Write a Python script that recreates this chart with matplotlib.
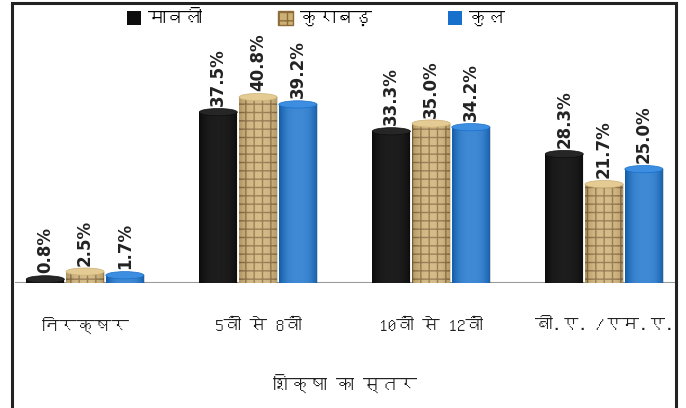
import matplotlib
matplotlib.use("Agg")
import matplotlib.pyplot as plt
from matplotlib import font_manager, ft2font
from matplotlib.patches import Ellipse, Rectangle, Patch
import numpy as np

categories = ["निरक्षर", "5वीं से 8वीं", "10वीं से 12वीं", "बी.ए. /एम.ए."]
series_names = ["मावली", "कुराबड़", "कुल"]
mavli = [0.8, 37.5, 33.3, 28.3]
kurabad = [2.5, 40.8, 35.0, 21.7]
kul = [1.7, 39.2, 34.2, 25.0]
xlabel = "शिक्षा का स्तर"

# find a font with Devanagari glyphs
deva = None
cands = []
for f in font_manager.fontManager.ttflist:
    try:
        cm = ft2font.FT2Font(f.fname).get_charmap()
        if 0x092E in cm and 0x0915 in cm:
            cands.append(f)
    except Exception:
        pass
if cands:
    deva = cands[0].name
families = ([deva] if deva else []) + ["DejaVu Sans"]
plt.rcParams['font.family'] = families

fig = plt.figure(figsize=(6.86, 4.08), dpi=100)
W, H = 686, 408
ax = fig.add_axes([15 / W, (H - 283) / H, 660 / W, (283 - 78) / H])
ax.axis("off")

colors = ["#0d0d0d", "#cdb074", "#1670cc"]
tops = ["#262626", "#e3cb93", "#3d8ee0"]
hatches = [None, "++", None]
alphas = [0.07, 0.15, 0.18]
offs = [-0.23, 0.0, 0.23]
bw = 0.22
x = np.arange(len(categories))
cap_h = 1.6

shade = np.linspace(-1, 1, 64)
grad = (1 - shade ** 2)[None, :]

for vals, c, tc, h, a, o, name in zip([mavli, kurabad, kul], colors, tops, hatches, alphas, offs, series_names):
    bars = ax.bar(x + o, vals, width=bw, color=c, edgecolor=("#8c6c3c" if h else c),
                  hatch=h, linewidth=0, label=name, zorder=3)
    for b in bars:
        im = ax.imshow(grad, cmap="Greys_r", alpha=a, aspect="auto",
                       extent=(b.get_x(), b.get_x() + b.get_width(), 0, b.get_height()),
                       zorder=3.5, vmin=0, vmax=1)
        im.set_clip_path(b)
    for xi, v in zip(x + o, vals):
        ax.add_patch(Ellipse((xi, v), bw, cap_h, facecolor=tc, edgecolor=c, lw=0.5, zorder=4))
        ax.add_patch(Ellipse((xi, 0), bw, cap_h, facecolor=c, edgecolor=c, lw=0, zorder=2.5))
        ax.text(xi, v + 1.3, f"{v:.1f}%", rotation=90, ha="center", va="bottom",
                fontsize=12, fontweight="bold", family="DejaVu Sans", color="#222222", zorder=5)
ax.set_xlim(-0.405, 3.41)
ax.set_ylim(0, 45)

ax.axhline(0, color="#999999", lw=1.5, zorder=1)

for xi, lab in zip(x, categories):
    fig.text((85 + 173 * xi) / W, (H - 325) / H, lab, ha="center", va="center",
             fontsize=12.5, fontweight="bold", color="#222222")
fig.text(345 / W, (H - 383) / H, xlabel, ha="center", va="center",
         fontsize=13, fontweight="bold", color="#222222")

handles = [Patch(facecolor=colors[0]), Patch(facecolor=colors[1], hatch="++", edgecolor="#8c6c3c"),
           Patch(facecolor=colors[2])]
fig.legend(handles, series_names, loc="center", bbox_to_anchor=(316 / W, (H - 18) / H), ncol=3,
           frameon=False, handlelength=0.8, handleheight=0.8, handletextpad=0.4,
           columnspacing=4.2, prop={"size": 13, "weight": "bold"})

fig.add_artist(Rectangle((12 / W, -0.05), 664 / W, (H - 3) / H + 0.05, transform=fig.transFigure,
                         fill=False, edgecolor="#222222", lw=2.2))

fig.savefig("out.png", dpi=100)
